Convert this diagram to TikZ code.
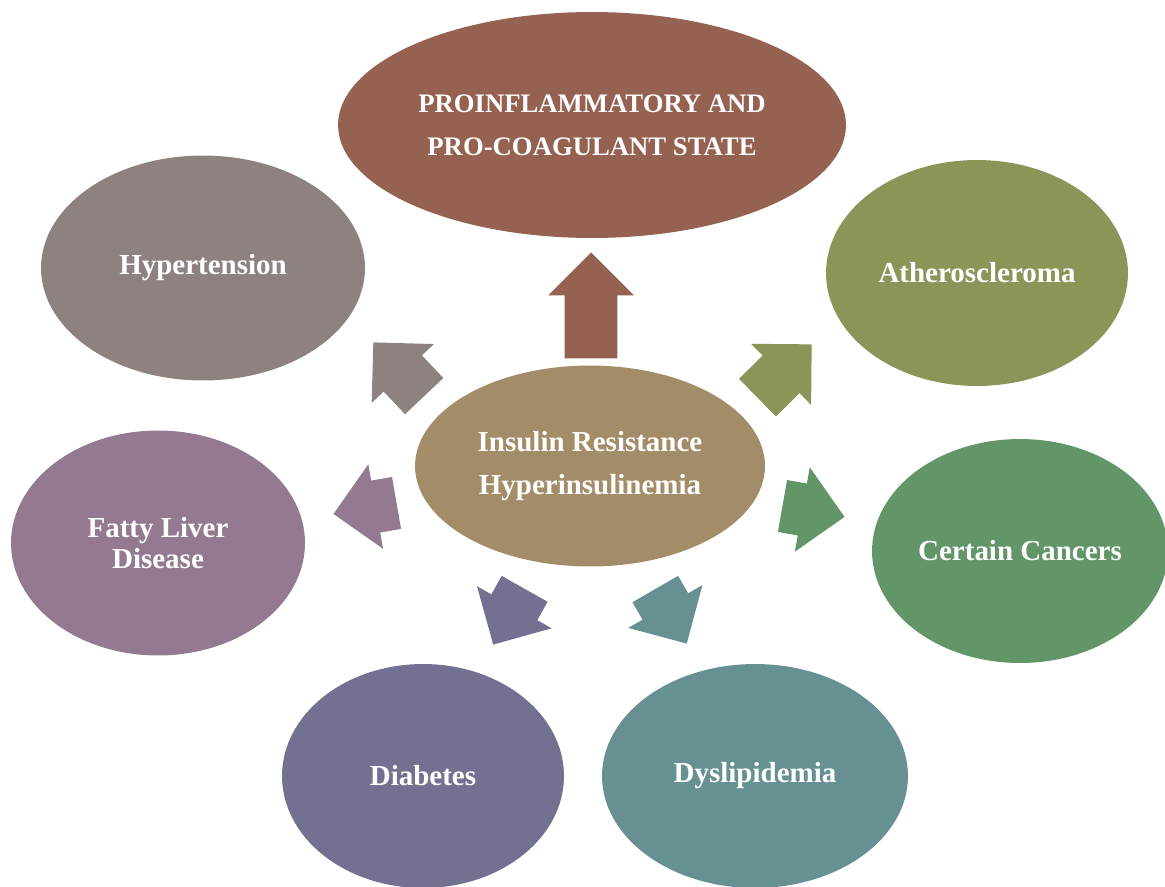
\documentclass[tikz,border=0pt]{standalone}
\usepackage{fontspec}
\setmainfont{Liberation Serif}
\usetikzlibrary{shapes.geometric,shapes.arrows}

\definecolor{cpro}{RGB}{149,97,80}
\definecolor{chyp}{RGB}{142,130,128}
\definecolor{cath}{RGB}{138,149,88}
\definecolor{cins}{RGB}{163,140,104}
\definecolor{cfat}{RGB}{147,122,144}
\definecolor{ccan}{RGB}{98,150,104}
\definecolor{cdia}{RGB}{114,113,146}
\definecolor{cdys}{RGB}{103,144,147}

\begin{document}
\begin{tikzpicture}[x=0.02cm, y=0.02cm,
  bubble/.style={ellipse, inner sep=0pt, text=white, align=center,
    font=\fontsize{16.5}{24.5}\selectfont\bfseries},
  blockarrow/.style={single arrow, anchor=tip, inner xsep=0pt, inner ysep=0.52cm,
    single arrow head extend=0.33cm}]
\useasboundingbox (0,0) rectangle (1165,-886);

\node[bubble, fill=cpro, minimum width=10.16cm, minimum height=4.52cm, font=\fontsize{15.2}{24.5}\selectfont\bfseries] (pro) at (592,-125) {PROINFLAMMATORY AND\\PRO-COAGULANT STATE};
\node[bubble, fill=chyp, minimum width=6.48cm, minimum height=4.5cm] (hyp) at (203,-268) {Hypertension};
\node[bubble, fill=cath, minimum width=6.04cm, minimum height=4.52cm] (ath) at (977,-273) {Atheroscleroma};
\node[bubble, fill=cins, minimum width=7cm, minimum height=4.02cm] (ins) at (590,-466) {Insulin Resistance\\Hyperinsulinemia};
\node[bubble, fill=cfat, minimum width=5.88cm, minimum height=4.5cm, font=\fontsize{16.5}{17.5}\selectfont\bfseries] (fat) at (158,-543) {Fatty Liver\\Disease};
\node[bubble, fill=ccan, minimum width=5.92cm, minimum height=4.48cm] (can) at (1020,-551) {Certain Cancers};
\node[bubble, fill=cdia, minimum width=5.64cm, minimum height=4.48cm] (dia) at (423,-776) {Diabetes};
\node[bubble, fill=cdys, minimum width=6.12cm, minimum height=4.48cm] (dys) at (755,-776) {Dyslipidemia};

% arrows out of the centre, placed by their tips
\node[blockarrow, fill=cpro, minimum height=2.12cm, rotate=90] (apro) at (591,-252) {};
\node[blockarrow, fill=chyp, minimum height=1.48cm, rotate=133.4] (ahyp) at (373,-342) {};
\node[blockarrow, fill=cath, minimum height=1.52cm, rotate=44.5] (aath) at (812,-344) {};
\node[blockarrow, fill=cfat, minimum height=1.28cm, rotate=189.9] (afat) at (333,-514) {};
\node[blockarrow, fill=ccan, minimum height=1.26cm, rotate=-10] (acan) at (845,-517) {};
\node[blockarrow, fill=cdia, minimum height=1.28cm, rotate=240.6] (adia) at (493,-645) {};
\node[blockarrow, fill=cdys, minimum height=1.26cm, rotate=-60] (adys) at (687,-644) {};

\end{tikzpicture}
\end{document}
